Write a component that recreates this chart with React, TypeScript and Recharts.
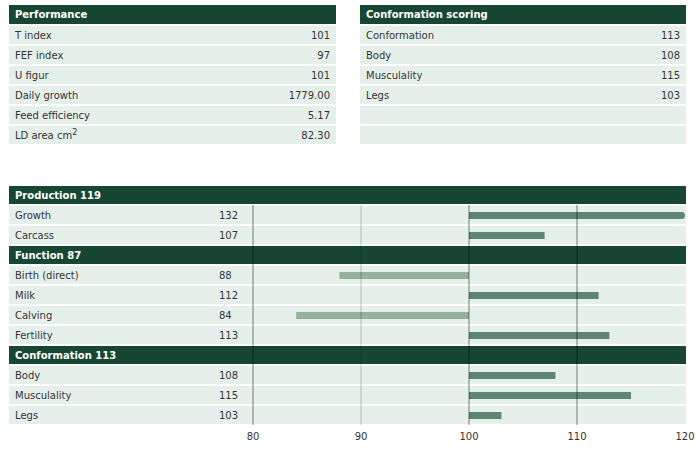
import { Bar, Cell, ComposedChart, ReferenceLine, XAxis, YAxis } from 'recharts';

const performanceLabels = ['T index', 'FEF index', 'U figur', 'Daily growth', 'Feed efficiency', 'LD area cm'];
const performanceValues = ['101', '97', '101', '1779.00', '5.17', '82.30'];

const scoringLabels = ['Conformation', 'Body', 'Musculality', 'Legs', '', ''];
const scoringValues = ['113', '108', '115', '103', '', ''];

const groupNames = ['Production', 'Function', 'Conformation'];
const groupScores = [119, 87, 113];
const traitNames = [
  ['Growth', 'Carcass'],
  ['Birth (direct)', 'Milk', 'Calving', 'Fertility'],
  ['Body', 'Musculality', 'Legs'],
];
const traitScores = [
  [132, 107],
  [88, 112, 84, 113],
  [108, 115, 103],
];

const axisTicks = [80, 90, 100, 110, 120];
const BASE = 100;

const DARK = '#174732';
const ROW_BG = '#e6f0eb';
const TEXT = '#333333';
const BAR_UP = '#5f8670';
const BAR_DOWN = '#97b09c';
const FONT = '"DejaVu Sans", Verdana, sans-serif';

interface Row {
  name: string;
  header: boolean;
  score?: number;
  range: [number, number] | null;
}

const rows: Row[] = groupNames.flatMap((g, gi) => [
  { name: `${g} ${groupScores[gi]}`, header: true, range: null },
  ...traitNames[gi].map((t, ti) => ({
    name: t,
    header: false,
    score: traitScores[gi][ti],
    range: [BASE, Math.min(traitScores[gi][ti], axisTicks[axisTicks.length - 1])] as [number, number],
  })),
]);

// first header sits above the grid, the rest goes into the chart
const chartRows = rows.slice(1);

function BarShape(props: any) {
  let { x, y, width, height, fill, payload } = props;
  if (width < 0) {
    x += width;
    width = -width;
  }
  const clipped = payload.score > axisTicks[axisTicks.length - 1];
  if (clipped) {
    const r = height / 2;
    const d = `M${x},${y} H${x + width - r} A${r},${r} 0 0 1 ${x + width - r},${y + height} H${x} Z`;
    return <path d={d} fill={fill} />;
  }
  return <rect x={x} y={y} width={width} height={height} fill={fill} />;
}

function Table({ left, width, title, labels, values }: any) {
  return (
    <div style={{ position: 'absolute', left, top: 5, width }}>
      <div
        style={{
          height: 19,
          lineHeight: '20px',
          background: DARK,
          color: '#fff',
          fontWeight: 'bold',
          paddingLeft: 6,
          marginBottom: 2,
        }}
      >
        {title}
      </div>
      {labels.map((l: string, i: number) => (
        <div
          key={i}
          style={{
            height: 18,
            lineHeight: '19px',
            background: ROW_BG,
            marginBottom: 2,
            display: 'flex',
            justifyContent: 'space-between',
            padding: '0 6px',
            color: TEXT,
          }}
        >
          <span>
            {l}
            {l === 'LD area cm' && <sup style={{ fontSize: 8, lineHeight: 0 }}>2</sup>}
          </span>
          <span>{values[i]}</span>
        </div>
      ))}
    </div>
  );
}

export default function App() {
  return (
    <div
      style={{
        position: 'absolute',
        left: 0,
        top: 0,
        width: 700,
        height: 450,
        background: '#fff',
        fontFamily: FONT,
        fontSize: 10,
        color: TEXT,
      }}
    >
      <Table left={9} width={327} title="Performance" labels={performanceLabels} values={performanceValues} />
      <Table left={360} width={326} title="Conformation scoring" labels={scoringLabels} values={scoringValues} />

      <div style={{ position: 'absolute', left: 9, top: 186, width: 677 }}>
        {rows.map((r, i) => (
          <div
            key={i}
            style={{
              height: 18,
              lineHeight: '19px',
              marginBottom: 2,
              background: r.header ? DARK : ROW_BG,
              color: r.header ? '#fff' : TEXT,
              fontWeight: r.header ? 'bold' : 'normal',
              display: 'flex',
            }}
          >
            <div style={{ width: 203, paddingLeft: 6, boxSizing: 'border-box' }}>{r.name}</div>
            <div style={{ width: 41, paddingLeft: 7, boxSizing: 'border-box' }}>{r.header ? '' : r.score}</div>
          </div>
        ))}
      </div>

      <div style={{ position: 'absolute', left: 0, top: 0 }}>
        <ComposedChart
          width={700}
          height={450}
          layout="vertical"
          data={chartRows}
          margin={{ top: 205, left: 253, right: 15, bottom: 5 }}
          barCategoryGap={0}
        >
          <XAxis
            type="number"
            domain={[axisTicks[0], axisTicks[axisTicks.length - 1]]}
            ticks={axisTicks}
            axisLine={false}
            tickLine={false}
            tickSize={0}
            tickMargin={8}
            height={20}
            tick={{ fontSize: 10, fill: TEXT, fontFamily: FONT }}
          />
          <YAxis type="category" dataKey="name" hide width={0} />
          <Bar dataKey="range" barSize={7} isAnimationActive={false} shape={BarShape}>
            {chartRows.map((r, i) => (
              <Cell key={i} fill={(r.score ?? BASE) < BASE ? BAR_DOWN : BAR_UP} />
            ))}
          </Bar>
          {axisTicks.slice(0, -1).map((t) => (
            <ReferenceLine
              key={t}
              x={t}
              stroke={t === 90 ? 'rgba(0,0,0,0.22)' : 'rgba(0,0,0,0.5)'}
              strokeWidth={1}
            />
          ))}
        </ComposedChart>
      </div>
    </div>
  );
}
